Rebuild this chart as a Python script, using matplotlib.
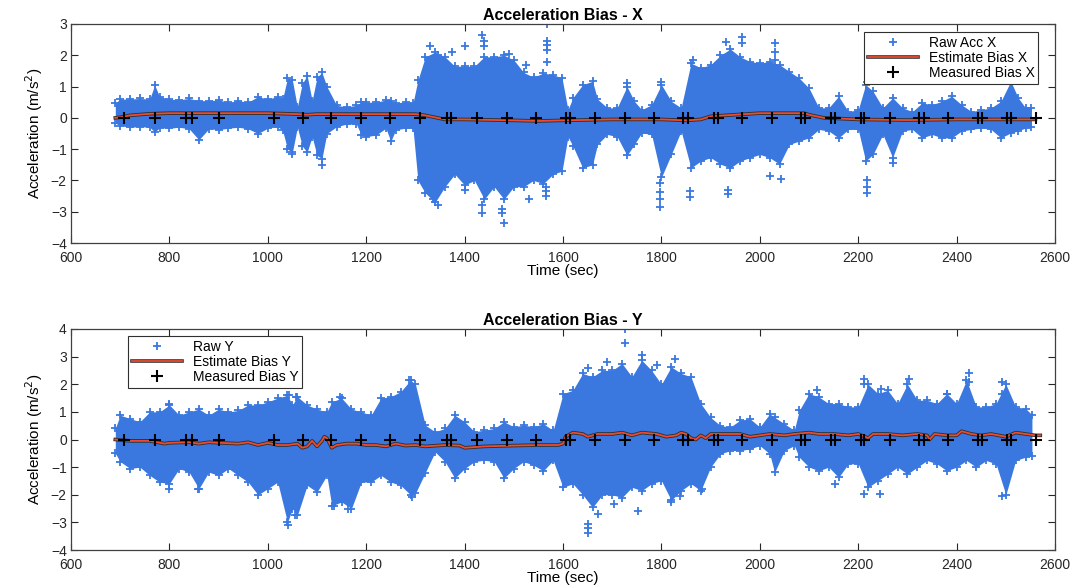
import matplotlib
matplotlib.use("Agg")
import matplotlib.pyplot as plt
import matplotlib.patheffects as pe

plt.rcParams['font.family'] = ['Liberation Sans', 'DejaVu Sans']

# ---- X axis: raw accelerometer envelope (time, upper, lower) ----
tx = [690, 700, 720, 740, 760, 770, 780, 800, 820, 840, 860, 880, 900, 920, 940, 960, 980,
      1000, 1020, 1030, 1040, 1050, 1060, 1070, 1080, 1090, 1100, 1110, 1120, 1140, 1160,
      1180, 1190, 1200, 1220, 1240, 1250, 1260, 1280, 1295, 1305, 1320, 1340, 1360, 1380,
      1400, 1420, 1440, 1460, 1480, 1500, 1520, 1540, 1560, 1580, 1598, 1610, 1620, 1640,
      1660, 1670, 1690, 1710, 1730, 1745, 1760, 1780, 1800, 1820, 1840, 1860, 1880, 1900,
      1920, 1940, 1960, 1980, 2000, 2020, 2040, 2060, 2080, 2100, 2120, 2140, 2160, 2180,
      2200, 2215, 2230, 2250, 2270, 2290, 2310, 2330, 2350, 2370, 2390, 2410, 2430, 2450,
      2470, 2490, 2510, 2525, 2540, 2552]
x_hi = [0.47, 0.6, 0.6, 0.62, 0.6, 1.05, 0.68, 0.6, 0.58, 0.62, 0.55, 0.55, 0.57, 0.5, 0.55,
        0.5, 0.68, 0.6, 0.68, 0.6, 1.27, 1.2, 0.35, 1.1, 1.35, 0.55, 1.3, 1.45, 1.0, 0.4, 0.35,
        0.4, 0.5, 0.5, 0.5, 0.57, 0.55, 0.47, 0.52, 0.47, 1.2, 1.95, 2.1, 1.95, 1.65, 1.65,
        1.65, 1.95, 1.95, 2.0, 1.85, 1.45, 1.3, 1.43, 1.38, 1.27, 0.26, 0.64, 1.06, 1.17, 0.6,
        0.32, 0.32, 1.0, 0.53, 0.26, 0.42, 1.06, 0.53, 0.32, 1.75, 1.6, 1.7, 2.0, 2.2, 1.95,
        1.8, 1.75, 1.8, 1.7, 1.48, 1.27, 0.95, 0.32, 0.32, 0.69, 0.2, 0.26, 1.06, 0.85, 0.32,
        0.64, 0.32, 0.2, 0.48, 0.42, 0.53, 0.69, 0.42, 0.2, 0.26, 0.32, 0.53, 1.17, 0.64,
        0.32, 0.3]
x_lo = [-0.17, -0.25, -0.3, -0.28, -0.3, -0.45, -0.32, -0.33, -0.3, -0.35, -0.7, -0.35, -0.38,
        -0.33, -0.3, -0.35, -0.5, -0.33, -0.28, -0.4, -1.0, -1.1, -0.3, -0.9, -1.1, -0.6, -1.2,
        -1.3, -0.5, -0.28, -0.2, -0.2, -0.55, -0.6, -0.55, -0.33, -0.75, -0.38, -0.33, -0.33,
        -2.0, -2.4, -2.7, -2.2, -1.8, -2.15, -2.0, -2.6, -2.2, -2.6, -2.2, -2.2, -2.0, -2.1,
        -1.8, -1.7, -0.6, -0.9, -1.6, -1.5, -0.85, -0.53, -0.6, -1.2, -0.85, -0.48, -0.53,
        -1.9, -1.17, -0.42, -1.6, -1.38, -1.27, -1.48, -1.6, -1.38, -1.27, -1.17, -1.27, -1.48,
        -0.85, -0.74, -0.64, -0.37, -0.42, -0.64, -0.37, -0.37, -1.38, -1.17, -0.53, -1.27,
        -0.42, -0.37, -0.64, -0.53, -0.64, -0.64, -0.42, -0.37, -0.32, -0.37, -0.64, -0.48,
        -0.42, -0.32, -0.3]
# isolated raw samples outside the dense band
x_out_t = [1330, 1345, 1375, 1400, 1435, 1440, 1440, 1490, 1525, 1567, 1567, 1567, 1567, 1567,
           1932, 1963, 1963, 2030, 2030, 2030, 1865, 2218, 2510, 1730, 1800,
           1345, 1335, 1400, 1435, 1435, 1475, 1475, 1480, 1530, 1565, 1565, 1565,
           1798, 1798, 1798, 1798, 1858, 1858, 1936, 1936, 2020, 2044, 2218, 2218, 2218,
           2270, 1050, 1110]
x_out_v = [2.3, 2.0, 2.1, 2.3, 2.65, 2.45, 2.3, 2.05, 1.7, 3.0, 2.47, 2.33, 2.17, 1.8,
           2.44, 2.6, 2.4, 2.38, 2.12, 1.85, 1.85, 1.15, 1.25, 1.1, 1.15,
           -2.8, -2.6, -2.3, -2.8, -3.05, -2.9, -3.05, -3.35, -2.6, -2.2, -2.35, -2.5,
           -2.07, -2.36, -2.6, -2.86, -2.33, -2.54, -2.3, -2.44, -1.85, -1.96, -2.0, -2.2, -2.4,
           -1.45, -1.15, -1.5]

# ---- Y axis: raw accelerometer envelope ----
ty = [690, 700, 720, 740, 760, 780, 800, 820, 840, 860, 880, 900, 920, 940, 960, 980, 1000,
      1020, 1040, 1050, 1060, 1080, 1100, 1120, 1130, 1150, 1170, 1190, 1210, 1230, 1250,
      1270, 1290, 1300, 1320, 1340, 1360, 1380, 1400, 1420, 1440, 1460, 1480, 1500, 1520,
      1540, 1560, 1580, 1600, 1620, 1640, 1660, 1680, 1700, 1720, 1740, 1760, 1780, 1800,
      1820, 1840, 1860, 1880, 1900, 1920, 1940, 1960, 1980, 2000, 2020, 2030, 2050, 2070,
      2080, 2100, 2120, 2140, 2160, 2180, 2200, 2220, 2240, 2260, 2280, 2300, 2320, 2340,
      2360, 2380, 2400, 2420, 2440, 2460, 2480, 2500, 2520, 2540, 2553]
y_hi = [0.4, 0.88, 0.76, 0.64, 1.0, 1.0, 1.25, 0.88, 1.0, 1.1, 0.88, 1.1, 1.0, 1.05, 1.25,
        1.25, 1.36, 1.5, 1.6, 1.25, 1.55, 1.25, 1.1, 1.0, 1.36, 1.5, 1.1, 1.0, 0.88, 1.5, 1.55,
        1.73, 2.15, 2.0, 0.52, 0.28, 0.4, 0.88, 0.64, 0.28, 0.34, 0.4, 0.64, 0.46, 0.52, 0.46,
        0.57, 0.33, 1.66, 1.78, 2.39, 2.27, 2.5, 2.5, 2.75, 2.27, 2.87, 2.5, 2.0, 2.63, 2.39,
        2.27, 1.3, 0.8, 0.5, 0.45, 0.7, 0.75, 0.45, 0.93, 0.8, 0.57, 0.33, 1.05, 1.66, 1.54,
        1.3, 1.3, 1.18, 1.18, 2.0, 1.66, 1.78, 1.3, 2.0, 1.42, 1.42, 1.3, 1.66, 1.3, 2.15,
        1.18, 1.18, 1.3, 2.0, 1.18, 1.12, 0.9]
y_lo = [-0.5, -0.8, -1.05, -1.0, -1.3, -1.54, -1.6, -1.05, -1.18, -1.78, -1.18, -1.3, -1.05,
        -1.3, -1.54, -2.0, -1.78, -1.54, -3.0, -2.5, -2.75, -1.66, -1.9, -1.3, -2.4, -2.26,
        -2.5, -1.54, -1.54, -1.3, -1.54, -1.66, -2.0, -1.95, -1.2, -0.45, -0.8, -1.4, -1.05,
        -0.8, -0.75, -0.8, -1.4, -1.05, -0.8, -0.93, -1.13, -0.76, -1.73, -1.6, -2.0, -2.46,
        -2.0, -2.0, -2.1, -1.73, -1.85, -1.6, -1.49, -2.2, -1.85, -1.6, -1.85, -1.0, -0.52,
        -0.4, -0.4, -0.34, -0.22, -0.52, -1.19, -0.4, -0.22, -0.64, -1.0, -1.13, -1.0, -1.37,
        -0.88, -0.88, -1.73, -1.49, -1.25, -1.0, -1.25, -1.0, -0.76, -0.88, -1.13, -1.0,
        -0.76, -1.0, -0.76, -0.88, -2.0, -0.76, -0.64, -0.6]
y_out_t = [1725, 1725, 1651, 1690, 1760, 1792, 1827, 1651, 1651, 1651, 1672, 1703, 1752,
           1819, 1837, 1883, 2212, 2212, 2247, 2303, 2380, 2425, 2425, 2492, 2492, 2492,
           2212, 2244, 2153, 2117, 1041, 1055, 1286, 1290, 1135, 1163, 1293, 799, 859, 1044,
           1058, 799, 1146]
y_out_v = [3.99, 3.48, 2.6, 2.8, 3.05, 2.7, 2.93, -3.07, -3.22, -3.37, -2.7, -2.34, -2.58,
           -2.28, -2.04, -1.8, 2.2, 2.0, 1.84, 2.2, 1.66, 2.39, 2.08, 2.08, 1.66, -2.04,
           -1.98, -1.98, -1.6, 1.78, -3.09, -2.75, 2.16, 1.85, -2.39, -2.5, -2.08, -1.78,
           -1.78, 1.6, 1.55, 1.3, 1.55]

# ---- estimated bias (filter output) ----
est_xt = [690, 700, 720, 760, 800, 900, 1000, 1060, 1080, 1100, 1200, 1300, 1320, 1360, 1400,
          1500, 1550, 1600, 1700, 1800, 1850, 1880, 1900, 1950, 2000, 2090, 2100, 2130, 2200,
          2300, 2400, 2500, 2560]
est_x = [0.0, 0.02, 0.08, 0.13, 0.15, 0.15, 0.15, 0.12, 0.1, 0.12, 0.12, 0.12, 0.08, -0.05,
         -0.05, -0.08, -0.1, -0.08, -0.05, -0.05, -0.08, -0.05, 0.05, 0.1, 0.15, 0.15, 0.1,
         0.0, -0.05, -0.07, -0.05, -0.05, -0.05]
est_yt = [690, 700, 720, 760, 790, 800, 840, 860, 880, 900, 940, 960, 980, 1000, 1020, 1040,
          1060, 1070, 1080, 1090, 1100, 1110, 1115, 1120, 1130, 1140, 1160, 1180, 1200, 1220,
          1240, 1260, 1280, 1300, 1320, 1360, 1390, 1400, 1440, 1500, 1550, 1590, 1600, 1605,
          1620, 1640, 1650, 1670, 1700, 1720, 1740, 1760, 1790, 1810, 1830, 1840, 1850, 1860,
          1870, 1880, 1890, 1900, 1920, 1960, 1980, 2000, 2020, 2050, 2070, 2100, 2120, 2150,
          2180, 2200, 2220, 2230, 2260, 2290, 2320, 2340, 2345, 2355, 2380, 2400, 2410, 2430,
          2450, 2470, 2500, 2520, 2540, 2560, 2570]
est_y = [0.0, -0.02, -0.05, -0.05, -0.15, -0.12, -0.1, -0.15, -0.1, -0.12, -0.15, -0.1, -0.2,
         -0.12, -0.2, -0.2, -0.15, -0.3, -0.25, -0.05, -0.25, -0.05, 0.1, 0.05, -0.3, -0.2,
         -0.15, -0.15, -0.2, -0.2, -0.25, -0.15, -0.22, -0.2, -0.25, -0.2, -0.22, -0.3, -0.25,
         -0.22, -0.2, -0.2, -0.15, 0.1, 0.25, 0.2, 0.1, 0.2, 0.2, 0.25, 0.15, 0.25, 0.2, 0.1,
         0.15, 0.25, 0.2, 0.05, 0.0, 0.15, 0.05, 0.2, 0.2, 0.2, 0.1, 0.15, 0.2, 0.15, 0.2,
         0.25, 0.2, 0.2, 0.15, 0.2, 0.05, 0.2, 0.2, 0.15, 0.2, 0.15, 0.0, 0.2, 0.15, 0.15,
         0.3, 0.2, 0.15, 0.2, 0.1, 0.25, 0.2, 0.15, 0.15]

# ---- measured bias (static periods) ----
meas_t = [708, 771, 834, 845, 901, 1013, 1072, 1128, 1190, 1248, 1309, 1365, 1372, 1426, 1486,
          1545, 1606, 1615, 1665, 1725, 1784, 1844, 1853, 1907, 1914, 1963, 2024, 2084, 2092,
          2145, 2152, 2205, 2212, 2265, 2324, 2333, 2383, 2444, 2451, 2503, 2511, 2561]
meas_x = [0.0] * len(meas_t)
meas_y = [0.0] * len(meas_t)

BLUE = '#3a78e0'
RED = '#ee4a2c'


def draw_panel(ax, t, hi, lo, out_t, out_v, et, ev, mv, axis, ylim, labels, legend_pos):
    ax.fill_between(t, lo, hi, color=BLUE, linewidth=0, zorder=1)
    ax.plot(t, hi, '+', color=BLUE, ms=6, mew=1.3, zorder=2)
    ax.plot(t, lo, '+', color=BLUE, ms=6, mew=1.3, zorder=2)
    ax.plot(out_t, out_v, '+', color=BLUE, ms=6, mew=1.3, zorder=2, label=labels[0])
    ax.plot(et, ev, '-', color=RED, lw=1.3, zorder=3, label=labels[1],
            path_effects=[pe.Stroke(linewidth=2.6, foreground='#303030'), pe.Normal()])
    ax.plot(meas_t, mv, '+', color='black', ms=8, mew=1.5, ls='none', zorder=4,
            label=labels[2])

    ax.set_xlim(600, 2600)
    ax.set_ylim(*ylim)
    ax.set_xticks(range(600, 2601, 200))
    ax.set_yticks(range(ylim[0], ylim[1] + 1))
    ax.tick_params(direction='in', top=True, right=True, length=5, width=0.8,
                   labelsize=10, colors='#262626', pad=3)
    ax.tick_params(axis='x', pad=6)
    for s in ax.spines.values():
        s.set_color('#404040')
        s.set_linewidth(0.9)
    ax.set_title('Acceleration Bias - ' + axis, fontsize=11.5, fontweight='bold', pad=3)
    ax.set_xlabel('Time (sec)', fontsize=11, labelpad=-1)
    ax.set_ylabel('Acceleration (m/s$^2$)', fontsize=11, labelpad=4)

    leg = ax.legend(loc=legend_pos[0], bbox_to_anchor=legend_pos[1], fontsize=10,
                    frameon=True, fancybox=False, framealpha=1, edgecolor='#303030',
                    labelspacing=0.1, handlelength=3.6, handletextpad=0.8,
                    borderpad=0.25, borderaxespad=0)
    leg.get_frame().set_linewidth(0.8)


fig = plt.figure(figsize=(10.84, 5.88), dpi=100)
ax1 = fig.add_axes([0.0655, 0.5867, 0.9078, 0.3725])
ax2 = fig.add_axes([0.0655, 0.0646, 0.9078, 0.3759])

draw_panel(ax1, tx, x_hi, x_lo, x_out_t, x_out_v, est_xt, est_x, meas_x, 'X', (-4, 3),
           ['Raw Acc X', 'Estimate Bias X', 'Measured Bias X'],
           ('upper right', (0.983, 0.963)))
draw_panel(ax2, ty, y_hi, y_lo, y_out_t, y_out_v, est_yt, est_y, meas_y, 'Y', (-4, 4),
           ['Raw Y', 'Estimate Bias Y', 'Measured Bias Y'],
           ('upper left', (0.058, 0.968)))

fig.savefig('out.png', dpi=100)
